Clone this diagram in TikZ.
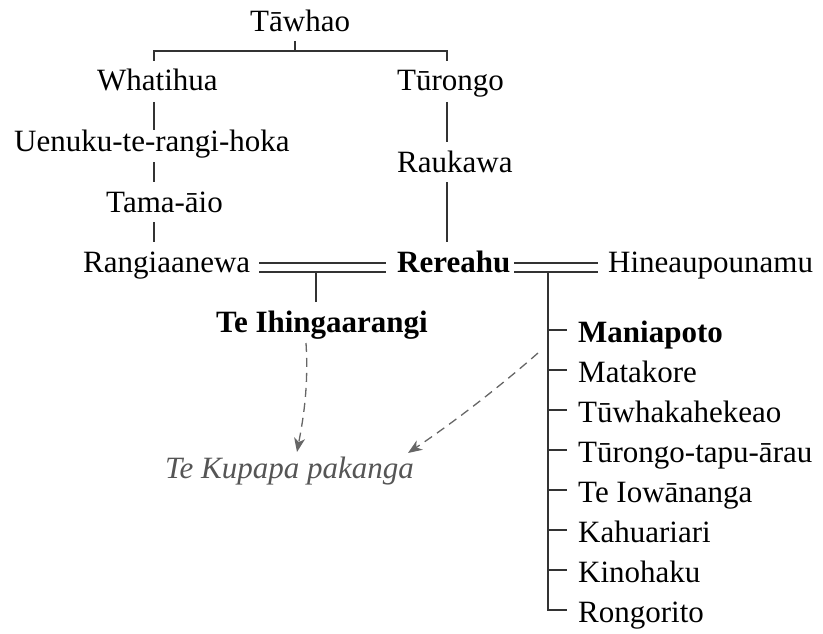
\documentclass[tikz,border=0pt]{standalone}
\usepackage{fontspec}
\setmainfont{Liberation Serif}
\usetikzlibrary{calc,arrows.meta}
\definecolor{linec}{HTML}{333333}
\definecolor{dashc}{HTML}{666666}
\definecolor{notec}{HTML}{555555}
\newcommand\namesize{\fontsize{31}{36}\selectfont}
\begin{document}
\begin{tikzpicture}[x=1pt,y=-1pt,
  person/.style={font=\namesize, inner sep=0pt, anchor=base west, text=black},
  keyperson/.style={person, font=\namesize\bfseries},
  note/.style={person, font=\namesize\itshape, text=notec},
  link/.style={draw=linec, line width=1.3pt},
  union/.style={link, double=white, double distance=7.6pt},
  descent/.style={draw=dashc, line width=1.3pt, dash pattern=on 9pt off 6pt,
    -{Stealth[length=14pt, width=11pt, inset=4pt]}}]
\useasboundingbox (0,0) rectangle (823,634);

% people
\node[person]    (tawhao)   at (250,32)  {Tāwhao};
\node[person]    (whatihua) at (97,91)   {Whatihua};
\node[person]    (turongo)  at (397,91)  {Tūrongo};
\node[person]    (uenuku)   at (14,152)  {Uenuku-te-rangi-hoka};
\node[person]    (raukawa)  at (397,172) {Raukawa};
\node[person]    (tamaaio)  at (106,212) {Tama-āio};
\node[person]    (rangi)    at (83,272)  {Rangiaanewa};
\node[keyperson] (rereahu)  at (397,272) {Rereahu};
\node[person]    (hine)     at (608,272) {Hineaupounamu};
\node[keyperson] (ihinga)   at (216,332) {Te Ihingaarangi};

\node[keyperson] (c1) at (578,342) {Maniapoto};
\node[person]    (c2) at (578,382) {Matakore};
\node[person]    (c3) at (578,422) {Tūwhakahekeao};
\node[person]    (c4) at (578,462) {Tūrongo-tapu-ārau};
\node[person]    (c5) at (578,502) {Te Iowānanga};
\node[person]    (c6) at (578,542) {Kahuariari};
\node[person]    (c7) at (578,582) {Kinohaku};
\node[person]    (c8) at (578,622) {Rongorito};

\node[note] (kupapa) at (165,478) {Te Kupapa pakanga};

% line columns
\coordinate (lx) at (154,0);
\coordinate (rx) at (447,0);
\coordinate (cx) at (548,0);

% Tāwhao's two sons
\coordinate (barL) at ($(whatihua.base -| lx)+(0,-40)$);
\coordinate (barR) at ($(turongo.base -| rx)+(0,-40)$);
\draw[link] ($(tawhao.base west)+(45,9)$) -- ($(tawhao.base west)+(45,19)$);
\draw[link] ($(barL)+(0,10)$) -- (barL) -- (barR) -- ($(barR)+(0,10)$);

% Whatihua line
\draw[link] ($(whatihua.base -| lx)+(0,11)$) -- ($(uenuku.base -| lx)+(0,-22)$);
\draw[link] ($(uenuku.base -| lx)+(0,10)$)   -- ($(tamaaio.base -| lx)+(0,-30)$);
\draw[link] ($(tamaaio.base -| lx)+(0,10)$)  -- ($(rangi.base -| lx)+(0,-30)$);

% Tūrongo line
\draw[link] ($(turongo.base -| rx)+(0,11)$) -- ($(raukawa.base -| rx)+(0,-30)$);
\draw[link] ($(raukawa.base -| rx)+(0,10)$) -- ($(rereahu.base -| rx)+(0,-30)$);

% marriages
\draw[union] ($(rangi.base east)+(9,-4.5)$) -- ($(rereahu.base west)+(-11,-4.5)$);
\draw[union] ($(rereahu.base east)+(4,-4.5)$) -- ($(hine.base west)+(-10,-4.5)$);

% child of Rangiaanewa and Rereahu
\draw[link] ($(ihinga.base west)+(100,-30)$) -- ($(ihinga.base west)+(100,-60)$);

% children of Rereahu and Hineaupounamu
\draw[link] (rereahu.base -| cx) -- ($(c8.base -| cx)+(0,-12)$) -- ($(c8.base west)+(-11,-12)$);
\foreach \c in {c1,c2,c3,c4,c5,c6,c7}
  \draw[link] ($(\c.base -| cx)+(0,-12)$) -- ($(\c.base west)+(-11,-12)$);

% descent into Te Kupapa
\draw[descent] ($(ihinga.base west)+(90,11)$)
  .. controls ($(ihinga.base west)+(93,58)$) and ($(kupapa.base west)+(137,-53)$) .. ($(kupapa.base west)+(132,-26)$);
\draw[descent] ($(c1.base west)+(-40,11)$)
  .. controls ($(c1.base west)+(-73,40)$) and ($(kupapa.base west)+(295,-60)$) .. ($(kupapa.base west)+(243,-25)$);
\end{tikzpicture}
\end{document}
